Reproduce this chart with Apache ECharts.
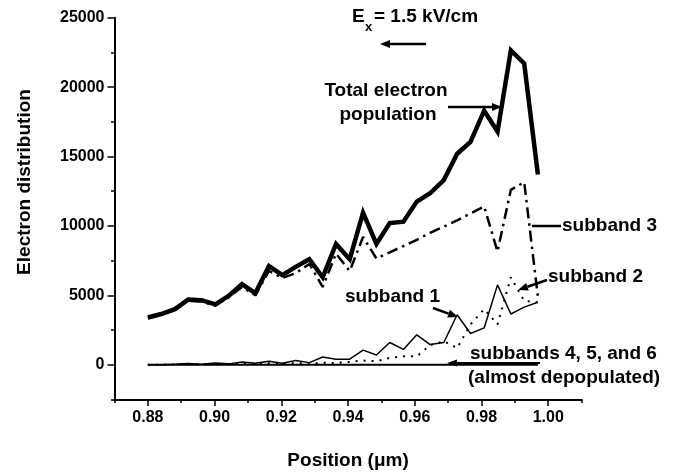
<!DOCTYPE html>
<html><head><meta charset="utf-8">
<script src="https://cdn.jsdelivr.net/npm/echarts/dist/echarts.min.js"></script>
<style>html,body{margin:0;padding:0;background:#fff}#c{width:682px;height:473px}</style>
</head><body><div id="c"></div>
<script>
// Data
const positions = [0.8800,0.8840,0.8881,0.8921,0.8961,0.9002,0.9042,0.9082,0.9122,0.9163,
                   0.9203,0.9243,0.9284,0.9324,0.9364,0.9405,0.9445,0.9485,0.9525,0.9566,
                   0.9606,0.9646,0.9687,0.9727,0.9767,0.9808,0.9848,0.9888,0.9928,0.9969];
const totalPop = [3400,3650,4000,4700,4650,4350,4950,5800,5150,7100,
                  6450,7050,7600,6300,8700,7600,10950,8700,10200,10300,
                  11750,12350,13300,15200,16050,18300,16800,22650,21700,13700];
const subband3 = [3350,3600,3950,4600,4550,4250,4850,5600,5000,6750,
                  6250,6600,7250,5600,8000,6750,9200,7650,8100,8550,
                  9000,9500,9950,10400,10900,11400,8150,12600,13150,4900];
const subband2 = [0,0,20,40,20,60,40,80,50,100,
                  60,120,80,150,120,200,300,250,500,600,
                  600,1400,1700,1200,2900,4000,2900,6300,4600,4500];
const subband1 = [0,0,30,80,40,120,60,200,100,250,
                  100,300,150,550,400,400,1050,700,1600,1100,
                  2150,1450,1600,3600,2250,2650,5750,3650,4150,4500];
const subband456 = [0,0,0,0,0,0,0,0,0,0,0,0,0,0,0,0,0,0,0,0,0,0,0,0,0,0,0,0,0,0];
const xMajorTicks = [0.88,0.90,0.92,0.94,0.96,0.98,1.00];
const yMajorTicks = [0,5000,10000,15000,20000,25000];

const pair = arr => positions.map((p,i)=>[p,arr[i]]);
const FONT = '"Liberation Sans", Arial, Helvetica, sans-serif';

function arrow(x1,y1,x2,y2,w,hl,hw){
  const ang = Math.atan2(y2-y1,x2-x1);
  const bx = x2 - hl*Math.cos(ang), by = y2 - hl*Math.sin(ang);
  const px = -Math.sin(ang)*hw, py = Math.cos(ang)*hw;
  return [
    {type:'line',shape:{x1:x1,y1:y1,x2:bx,y2:by},style:{stroke:'#000',lineWidth:w}},
    {type:'polygon',shape:{points:[[x2,y2],[bx+px,by+py],[bx-px,by-py]]},style:{fill:'#000'}}
  ];
}
function txt(x,y,s,size,align){
  return {type:'text',x:x,y:y,style:{text:s,font:'bold '+size+'px '+FONT,fill:'#000',align:align||'left',verticalAlign:'middle'}};
}

const chart = echarts.init(document.getElementById('c'),null,{renderer:'canvas'});
const axisBase = {
  type:'value', splitLine:{show:false}
};
chart.setOption({
  animation:false,
  backgroundColor:'#fff',
  grid:{left:114.5,right:100.4,top:17.7,bottom:73.6,containLabel:false,outerBoundsMode:'none'},
  xAxis:[
    Object.assign({},axisBase,{min:0.87,max:1.01,interval:0.01,position:'bottom',
      axisLine:{show:true,onZero:false,lineStyle:{color:'#000',width:2}},
      axisTick:{show:true,length:3.5,lineStyle:{color:'#000',width:1.5}},
      axisLabel:{show:false},
      name:'Position (\u03bcm)',nameLocation:'middle',nameGap:52,
      nameTextStyle:{fontFamily:FONT,fontWeight:'bold',fontSize:19,color:'#000'}}),
    Object.assign({},axisBase,{min:0.87,max:1.01,position:'bottom',offset:0,
      axisLine:{show:false,onZero:false},
      axisTick:{show:true,length:6.5,customValues:xMajorTicks,lineStyle:{color:'#000',width:1.5}},
      axisLabel:{show:true,customValues:xMajorTicks,margin:10,formatter:v=>v.toFixed(2),
        fontFamily:FONT,fontWeight:'bold',fontSize:16,color:'#000'}})
  ],
  yAxis:[
    Object.assign({},axisBase,{min:-2500,max:25000,interval:2500,position:'left',
      axisLine:{show:true,onZero:false,lineStyle:{color:'#000',width:2}},
      axisTick:{show:true,length:3.5,lineStyle:{color:'#000',width:1.5}},
      axisLabel:{show:false}}),
    Object.assign({},axisBase,{min:-2500,max:25000,position:'left',offset:0,
      axisLine:{show:false,onZero:false},
      axisTick:{show:true,length:7,customValues:yMajorTicks,lineStyle:{color:'#000',width:1.5}},
      axisLabel:{show:true,customValues:yMajorTicks,margin:10,formatter:v=>String(v),
        fontFamily:FONT,fontWeight:'bold',fontSize:16,color:'#000'}})
  ],
  series:[
    {name:'subbands 4, 5, and 6',type:'line',data:pair(subband456),showSymbol:false,symbol:'none',
      lineStyle:{color:'#000',width:2}},
    {name:'subband 1',type:'line',data:pair(subband1),showSymbol:false,symbol:'none',
      lineStyle:{color:'#000',width:1.5}},
    {name:'subband 2',type:'line',data:pair(subband2),showSymbol:false,symbol:'none',
      lineStyle:{color:'#000',width:2,type:[2,6]}},
    {name:'subband 3',type:'line',data:pair(subband3),showSymbol:false,symbol:'none',
      lineStyle:{color:'#000',width:2.5,type:[11,5,2.5,5]}},
    {name:'Total electron population',type:'line',data:pair(totalPop),showSymbol:false,symbol:'none',
      lineStyle:{color:'#000',width:4.5,join:'miter'}}
  ],
  graphic:[
    {type:'text',x:25,y:182,rotation:Math.PI/2,
      style:{text:'Electron distribution',font:'bold 19px '+FONT,fill:'#000',align:'center',verticalAlign:'middle'}},
    txt(352,17,'E',19),
    txt(365,27,'x',13),
    txt(374,17,'= 1.5 kV/cm',19),
    ...arrow(426,44,380,44,2.5,10,4),
    txt(386,91,'Total electron',19,'center'),
    txt(388,115,'population',19,'center'),
    ...arrow(448,107,502,107,2.5,10,4),
    {type:'line',shape:{x1:532,y1:226,x2:561,y2:226},style:{stroke:'#000',lineWidth:2.5}},
    txt(562,226,'subband 3',19),
    ...arrow(547,280,518,290,2.5,10,4),
    txt(548,277,'subband 2',19),
    txt(345,297,'subband 1',19),
    ...arrow(433,308,458,317,2.5,10,4),
    ...arrow(540,363,447,363,2,10,3.5),
    txt(470,354,'subbands 4, 5, and 6',19),
    txt(468,378,'(almost depopulated)',19)
  ]
});
</script>
</body></html>
